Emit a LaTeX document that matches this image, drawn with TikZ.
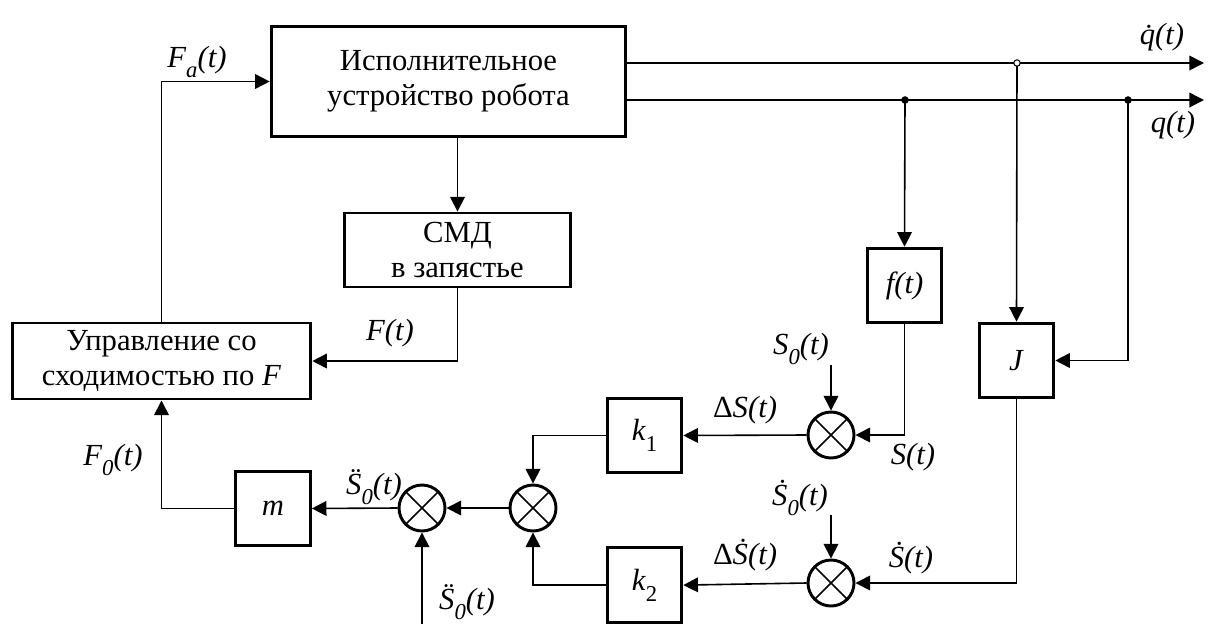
\documentclass[tikz,border=0pt]{standalone}
\usepackage{fontspec}
\setmainfont{Liberation Serif}
\usetikzlibrary{positioning, arrows.meta, calc}

\newcommand{\lowsub}[1]{\raisebox{-0.75ex}{\fontsize{17}{17}\selectfont\textit{#1}}}
\newcommand{\lowsubup}[1]{\raisebox{-0.75ex}{\fontsize{17}{17}\selectfont\upshape #1}}

\begin{document}
\begin{tikzpicture}[
    x=0.75pt, y=-0.75pt,
    every node/.style={font=\fontsize{23}{26}\selectfont},
    box/.style={draw, rectangle, line width=2.2pt, align=center, inner sep=2pt},
    small/.style={box, minimum width=56pt, minimum height=56pt},
    sumnode/.style={draw, circle, line width=2.2pt, minimum size=34.5pt, inner sep=0pt,
        path picture={\draw[line width=1.1pt] (path picture bounding box.north west) -- (path picture bounding box.south east)
            (path picture bounding box.north east) -- (path picture bounding box.south west);}},
    lbl/.style={inner sep=0pt, font=\fontsize{23}{26}\selectfont\itshape},
    arrow/.style={-{Triangle[length=11pt, width=11pt]}, line width=1.2pt}
]
\useasboundingbox (0,0) rectangle (1208,626);

% blocks
\node[box, minimum width=266pt, minimum height=83pt] (robot) at (448.5,81.5) {Исполнительное\\устройство робота};
\node[box, minimum width=169pt, minimum height=55.5pt] (smd) at (457.5,250) {СМД\\в запястье};
\node[box, minimum width=224pt, minimum height=57pt] (ctrl) at (161.5,361) {Управление со\\сходимостью по \textit{F}};
\node[small] (m) at (273,508.5) {\textit{m}};
\node[small] (ft) at (904.5,285.5) {\textit{f(t)}};
\node[small] (J) at (1016.5,360.5) {\textit{J}};
\node[small] (k1) at (644.5,435.5) {\textit{k}\lowsubup{1}};
\node[small, below=54pt of k1] (k2) {\textit{k}\lowsubup{2}};

% comparators
\node[sumnode] (sum1) at (831,435) {};
\node[sumnode] (sum2) at (831,583) {};
\node[sumnode] (sum3) at (533,508) {};
\node[sumnode] (sum4) at (422,508) {};

% outputs and branch points
\coordinate (qdout) at (1204,63);
\coordinate (qout) at (1204,100);
\coordinate (jqd) at (1017,63);
\coordinate (jq1) at (905,100);
\coordinate (jq2) at (1128,100);
\coordinate (s0in) at (831,365);
\coordinate (s0din) at (831,515);
\coordinate (s0ddin) at (422,624);

\draw[arrow] (robot.east |- qdout) -- (qdout);
\draw[arrow] (robot.east |- qout) -- (qout);
\draw[arrow] (jq1) -- (ft.north);
\draw[arrow] (jqd) -- (J.north);
\draw[arrow] (jq2) |- (J.east);
\draw[arrow] (ft.south) |- (sum1.east);
\draw[arrow] (J.south) |- (sum2.east);
\draw[arrow] (s0in) -- (sum1.north);
\draw[arrow] (s0din) -- (sum2.north);
\draw[arrow] (sum1.west) -- (k1.east);
\draw[arrow] (sum2.west) -- (k2.east);
\draw[arrow] (k1.west) -| (sum3.north);
\draw[arrow] (k2.west) -| (sum3.south);
\draw[arrow] (sum3.west) -- (sum4.east);
\draw[arrow] (s0ddin) -- (sum4.south);
\draw[arrow] (sum4.west) -- (m.east);
\draw[arrow] (m.west) -| (ctrl.south);
\draw[arrow] (ctrl.north) |- (robot.west);
\draw[arrow] (smd.north |- robot.south) -- (smd.north);
\draw[arrow] (smd.south) |- (ctrl.east);

\draw[line width=0.8pt, fill=black] (jq1) circle (2.4pt) (jq2) circle (2.4pt);
\draw[line width=0.8pt, fill=white] (jqd) circle (2.4pt);

% signal labels
\node[lbl] (fa) at (197,62) {F\lowsub{a}(t)};
\node[lbl] (qd) at (1162,37) {\.{q}(t)};
\node[lbl] (q) at (1173,125) {q(t)};
\node[lbl] (f) at (390,333) {F(t)};
\node[lbl] (f0) at (113,460) {F\lowsub{0}(t)};
\node[lbl] (sdd1) at (374,487) {\"{S}\lowsub{0}(t)};
\node[lbl] (sdd2) at (467,602) {\"{S}\lowsub{0}(t)};
\node[lbl] (ds) at (745,410) {\upshape Δ\itshape S(t)};
\node[lbl] (s0) at (801,349) {S\lowsub{0}(t)};
\node[lbl] (dsd) at (745,555) {\upshape Δ\itshape \.{S}(t)};
\node[lbl] (s0d) at (800,498) {\.{S}\lowsub{0}(t)};
\node[lbl] (s) at (913,457) {S(t)};
\node[lbl] (sd) at (911,558) {\.{S}(t)};

\end{tikzpicture}
\end{document}
